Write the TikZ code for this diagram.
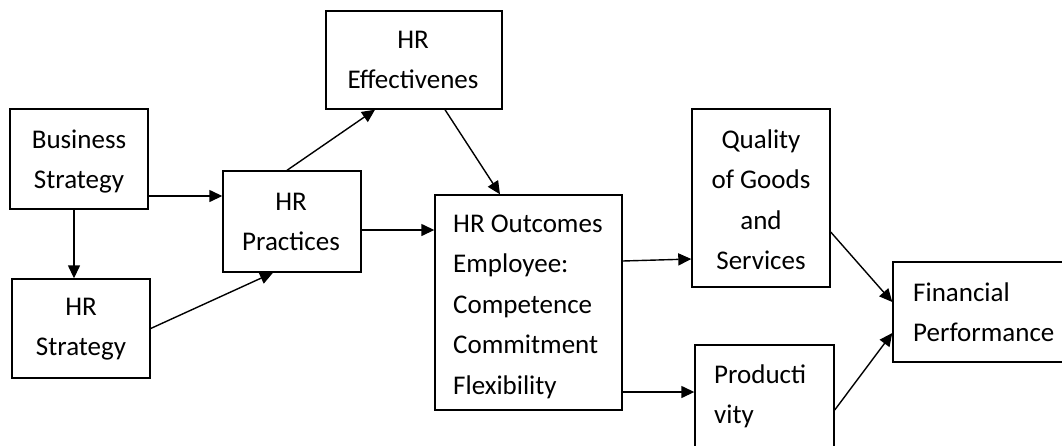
\documentclass[tikz,border=0pt]{standalone}
\usepackage{fontspec}
\setmainfont{Carlito}
\usetikzlibrary{arrows.meta}
\newcommand{\clines}[1]{\begin{tabular}[t]{@{}c@{}}#1\end{tabular}}
\newcommand{\llines}[1]{\begin{tabular}[t]{@{}l@{}}#1\end{tabular}}
\begin{document}
\begin{tikzpicture}[x=1pt,y=-1pt,
  box/.style={draw=black, line width=1.4pt, inner sep=0pt, rectangle},
  txt/.style={inner sep=0pt, anchor=base, font=\fontsize{27}{40.6}\selectfont},
  ltxt/.style={txt, anchor=base west},
  conn/.style={line width=1.4pt, -{Triangle[length=13pt,width=12pt]}}]
\useasboundingbox (0,0) rectangle (1062,445);
\clip (0,0) rectangle (1062,445);
\fill[white] (0,0) rectangle (1062,445);
% boxes
\node[box, minimum width=138pt, minimum height=100pt] (bs)   at (79,159) {};
\node[box, minimum width=138pt, minimum height=99pt]  (hrs)  at (81,328.5) {};
\node[box, minimum width=138pt, minimum height=101pt] (hrp)  at (292,221.5) {};
\node[box, minimum width=176pt, minimum height=98pt]  (hre)  at (414,60) {};
\node[box, minimum width=187pt, minimum height=215pt] (hro)  at (528.5,302.5) {};
\node[box, minimum width=138pt, minimum height=178pt] (qual) at (761,198) {};
\node[box, minimum width=139pt, minimum height=115pt] (prod) at (764.5,402.5) {};
\node[box, minimum width=182pt, minimum height=100pt] (fin)  at (984,312) {};
% texts
\node[txt]  (tbs)   at (79,148)  {\clines{Business\\Strategy}};
\node[txt]  (thrs)  at (81,315)  {\clines{HR\\Strategy}};
\node[txt]  (thrp)  at (291,210) {\clines{HR\\Practices}};
\node[txt]  (thre)  at (413,48)  {\clines{HR\\Effectivenes}};
\node[ltxt] (thro)  at (453,232) {\llines{HR Outcomes\\Employee:\\Competence\\Commitment\\Flexibility}};
\node[txt]  (tqual) at (761,148) {\clines{Quality\\of Goods\\and\\Services}};
\node[ltxt] (tfin)  at (913,301) {\llines{Financial\\Performance}};
\node[ltxt] (tprod) at (714,383) {\llines{Producti\\vity}};
% connectors
\draw[conn] ([yshift=-37pt]bs.east) -- ([yshift=25.5pt]hrp.west);
\draw[conn] ([xshift=-5pt]bs.south) -- ([xshift=-7pt]hrs.north);
\draw[conn] (hrs.east) -- ([xshift=-19pt]hrp.south);
\draw[conn] ([xshift=-5pt]hrp.north) -- ([xshift=-39pt]hre.south);
\draw[conn] ([yshift=-8.5pt]hrp.east) -- ([yshift=72.5pt]hro.west);
\draw[conn] ([xshift=31pt]hre.south) -- ([xshift=-28.5pt]hro.north);
\draw[conn] ([yshift=41.5pt]hro.east) -- ([yshift=-61pt]qual.west);
\draw[conn] ([yshift=-89.5pt]hro.east) -- ([yshift=10.5pt]prod.west);
\draw[conn] ([yshift=-34pt]qual.east) -- ([yshift=10pt]fin.west);
\draw[conn] ([yshift=-7.5pt]prod.east) -- ([yshift=-21pt]fin.west);
\end{tikzpicture}
\end{document}
